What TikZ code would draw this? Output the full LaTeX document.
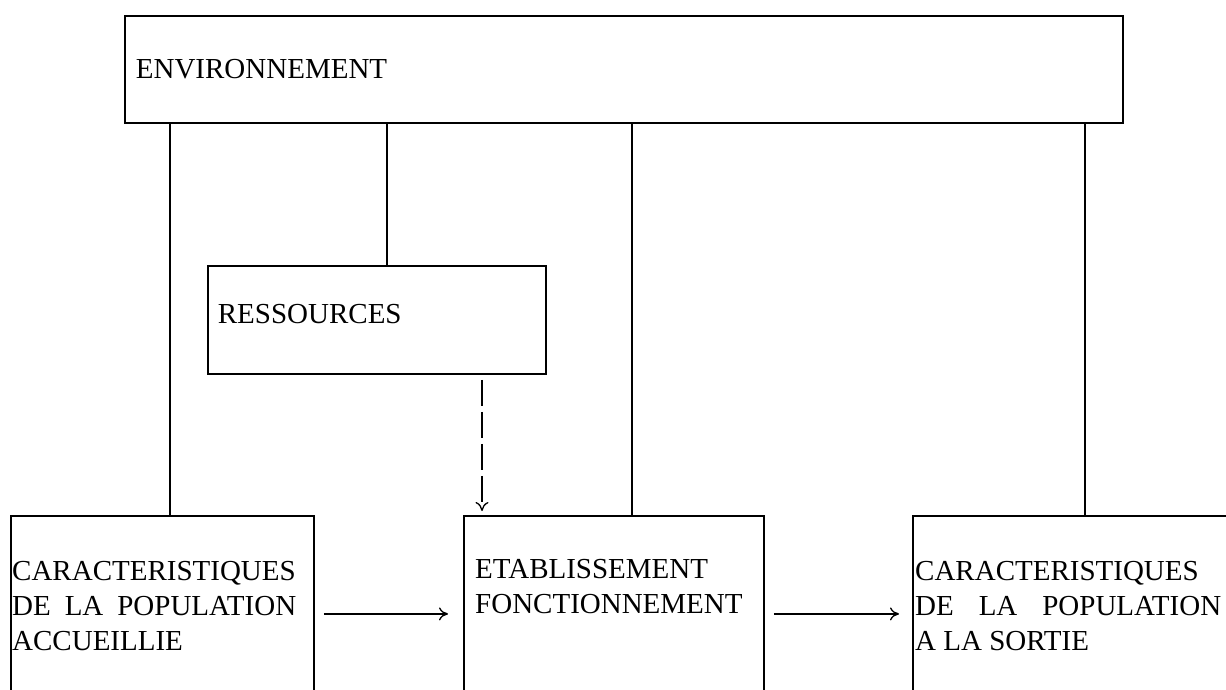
\documentclass[tikz,border=0pt]{standalone}
\usepackage{fontspec}
\setmainfont{Liberation Serif}
\usetikzlibrary{arrows.meta}

\begin{document}
\begin{tikzpicture}[x=1pt, y=-1pt,
    box/.style={draw, line width=1.8pt, anchor=north west, inner sep=0pt},
    txt/.style={anchor=north west, inner sep=0pt, align=left, font={\fontsize{29}{35}\selectfont}},
    link/.style={line width=1.3pt},
    flow/.style={line width=1.3pt, -{To[length=9pt, width=13pt]}}]
  \useasboundingbox (0,0) rectangle (1226,690);
  \clip (0,0) rectangle (1226,690);
  \node [box, minimum width=998pt, minimum height=107pt, text width=976pt, inner xsep=11pt, align=left, font={\fontsize{29}{35}\selectfont}] (env) at (124,15) {ENVIRONNEMENT};
  \node [box, minimum width=338pt, minimum height=108pt, text width=318pt, inner xsep=10pt, text depth=13pt, align=left, font={\fontsize{29}{35}\selectfont}] (res) at (207,265) {RESSOURCES};
  \node [box, minimum width=303pt, minimum height=196pt] (accueil) at (10,515) {};
  \node [box, minimum width=300pt, minimum height=196pt] (etab) at (463,515) {};
  \node [box, minimum width=400pt, minimum height=196pt] (sortie) at (912,515) {};
  \node [txt] (accueiltxt) at ([shift={(2,46)}]accueil.north west) {CARACTERISTIQUES\\ \makebox[284pt][s]{DE LA POPULATION}\\ ACCUEILLIE};
  \node [txt] (etabtxt) at ([shift={(12,44)}]etab.north west) {ETABLISSEMENT\\ FONCTIONNEMENT};
  \node [txt] (sortietxt) at ([shift={(3,46)}]sortie.north west) {CARACTERISTIQUES\\ \makebox[306pt][s]{DE LA POPULATION}\\ A LA SORTIE};
  \draw [link] (env.south -| 170,0) -- (accueil.north -| 170,0);
  \draw [link] (env.south -| 387,0) -- (res.north -| 387,0);
  \draw [link] (env.south -| 632,0) -- (etab.north -| 632,0);
  \draw [link] (env.south -| 1085,0) -- (sortie.north -| 1085,0);
  \draw [flow, dash pattern=on 26pt off 6pt, shorten <=5pt, shorten >=4pt] (res.south -| 482,0) -- (etab.north -| 482,0);
  \draw [flow, shorten <=9pt, shorten >=15pt] (accueil.east) -- (etab.west);
  \draw [flow, shorten <=9pt, shorten >=13pt] (etab.east) -- (sortie.west);
\end{tikzpicture}
\end{document}
